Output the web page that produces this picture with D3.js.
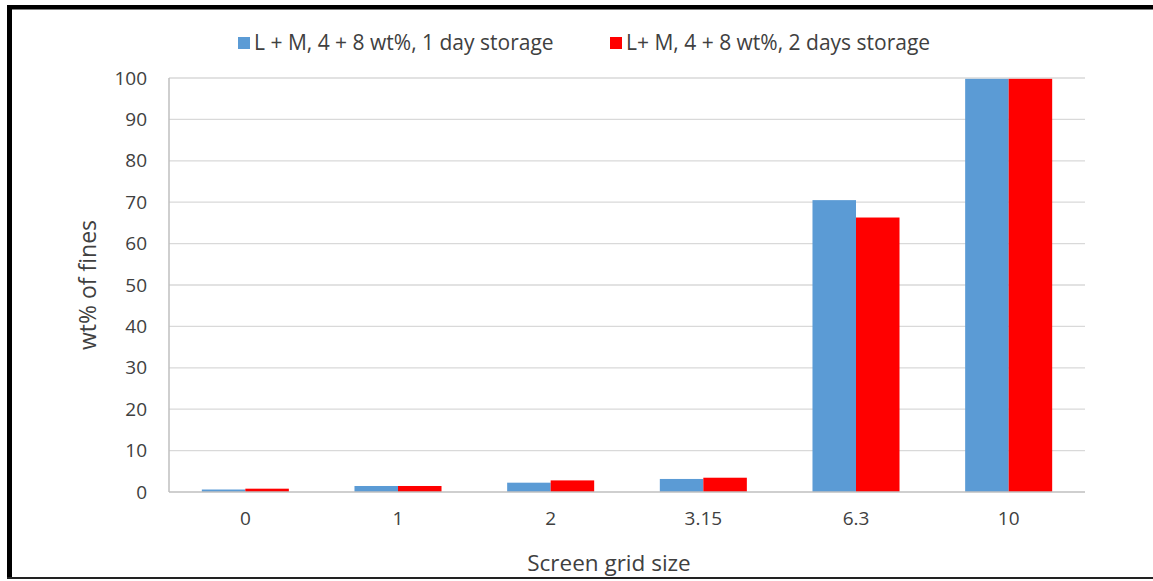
<!DOCTYPE html>
<html>
<head>
<meta charset="utf-8">
<script src="https://cdnjs.cloudflare.com/ajax/libs/d3/7.8.5/d3.min.js"></script>
<style>
  body { margin:0; background:#fff; }
  svg text { font-family: "Open Sans", sans-serif; fill:#404040; }
</style>
</head>
<body>
<div id="chart"></div>
<script>
// grid sizes on the screen
const categories = ["0", "1", "2", "3.15", "6.3", "10"];
const seriesNames = ["L + M, 4 + 8 wt%, 1 day storage", "L+ M, 4 + 8 wt%, 2 days storage"];
const day1 = [0.6, 1.45, 2.25, 3.15, 70.5, 99.8];
const day2 = [0.8, 1.45, 2.8, 3.45, 66.3, 99.8];
const yTicks = [0, 10, 20, 30, 40, 50, 60, 70, 80, 90, 100];
const colors = ["#5b9bd5", "#ff0000"];

const W = 1153, H = 581;
const m = { top:78, right:68, bottom:89, left:169 };
const iw = W - m.left - m.right, ih = H - m.top - m.bottom;

const svg = d3.select("#chart").append("svg").attr("width", W).attr("height", H);

// frame: heavy top and left, thin bottom, nothing on the right
svg.append("rect").attr("x", 7).attr("y", 5).attr("width", W - 7).attr("height", 4.5).attr("fill", "#000");
svg.append("rect").attr("x", 7).attr("y", 5).attr("width", 5).attr("height", 574).attr("fill", "#000");
svg.append("rect").attr("x", 7).attr("y", 577).attr("width", W - 7).attr("height", 2).attr("fill", "#222");

const g = svg.append("g").attr("transform", `translate(${m.left},${m.top})`);

const x = d3.scaleBand().domain(categories).range([0, iw]).paddingInner(0.43).paddingOuter(0.215);
const xs = d3.scaleBand().domain([0, 1]).range([0, x.bandwidth()]);
const y = d3.scaleLinear().domain([0, 100]).range([ih, 0]);

// gridlines
g.selectAll("line.grid").data(yTicks.slice(1)).enter().append("line")
  .attr("x1", 0).attr("x2", iw)
  .attr("y1", d => y(d)).attr("y2", d => y(d))
  .attr("stroke", "#d9d9d9").attr("stroke-width", 1.3);

// bars
const series = [day1, day2];
series.forEach((vals, si) => {
  g.selectAll(`rect.s${si}`).data(vals).enter().append("rect")
    .attr("x", (d, i) => x(categories[i]) + xs(si))
    .attr("y", d => y(d))
    .attr("width", xs.bandwidth())
    .attr("height", d => ih - y(d))
    .attr("fill", colors[si]);
});

// axis lines
g.append("line").attr("x1", 0).attr("x2", iw).attr("y1", ih).attr("y2", ih)
  .attr("stroke", "#bfbfbf").attr("stroke-width", 1.5);
g.append("line").attr("x1", 0).attr("x2", 0).attr("y1", 0).attr("y2", ih)
  .attr("stroke", "#bfbfbf").attr("stroke-width", 1.5);

const yAxis = g.append("g").call(d3.axisLeft(y).tickValues(yTicks).tickSize(0).tickPadding(22));
yAxis.select(".domain").remove();
yAxis.selectAll("text").attr("font-size", 19).attr("fill", "#404040")
  .style("font-family", '"Open Sans", sans-serif');

const xAxis = g.append("g").attr("transform", `translate(0,${ih})`)
  .call(d3.axisBottom(x).tickSize(0).tickPadding(20));
xAxis.select(".domain").remove();
xAxis.selectAll("text").attr("font-size", 19).attr("fill", "#404040")
  .style("font-family", '"Open Sans", sans-serif');

// axis titles
svg.append("text").attr("x", 609).attr("y", 571).attr("text-anchor", "middle")
  .attr("font-size", 22.5).text("Screen grid size");
svg.append("text").attr("transform", "rotate(-90)").attr("x", -285).attr("y", 96)
  .attr("text-anchor", "middle").attr("font-size", 23).text("wt% of fines");

// legend
const legX = [238, 610];
seriesNames.forEach((name, i) => {
  svg.append("rect").attr("x", legX[i]).attr("y", 37).attr("width", 12).attr("height", 12).attr("fill", colors[i]);
  svg.append("text").attr("x", legX[i] + 16).attr("y", 50).attr("font-size", 21).text(name);
});
</script>
</body>
</html>
